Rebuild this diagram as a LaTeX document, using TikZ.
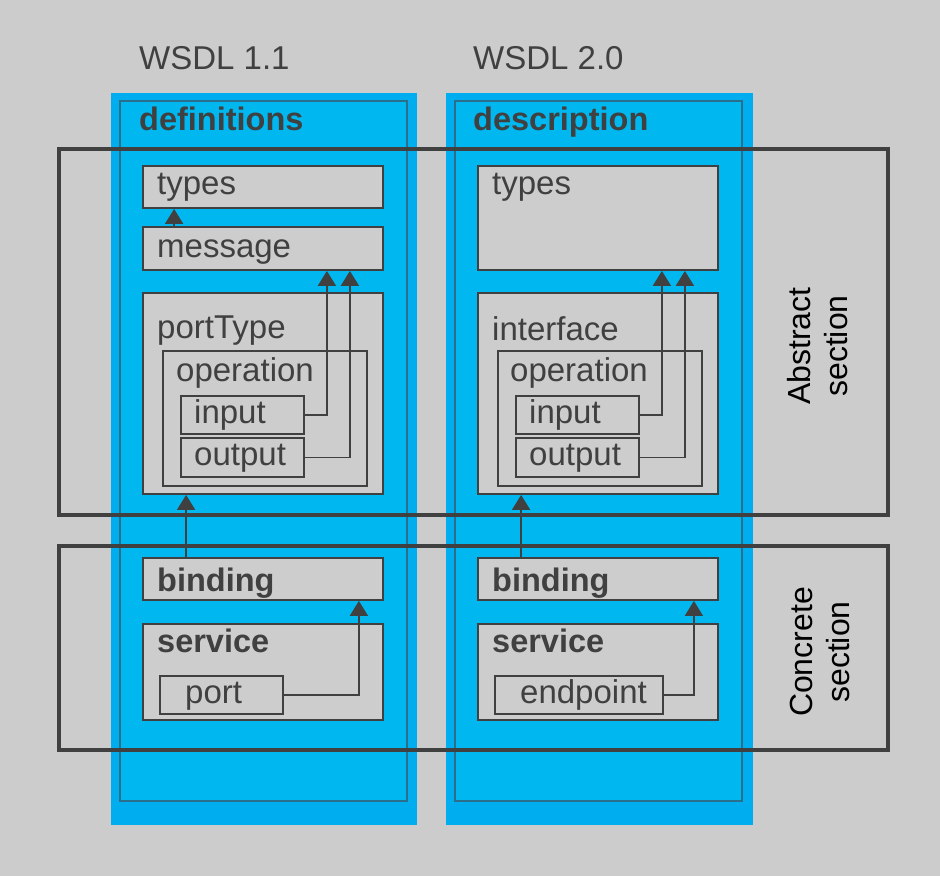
\documentclass[tikz,border=0pt]{standalone}
\usepackage{fontspec}
\setmainfont{Liberation Sans}
\usetikzlibrary{arrows.meta}
\definecolor{bggray}{HTML}{CCCCCC}
\definecolor{boxgray}{HTML}{CDCDCD}
\definecolor{dark}{HTML}{404040}
\definecolor{blueout}{HTML}{00AEEF}
\definecolor{bluein}{HTML}{00B8EF}
\definecolor{blueline}{HTML}{2A6F8C}
% box from corner (x1,y1) to corner (x2,y2), in pixels
\newcommand\wbox[6][box]{\node[#1,minimum width={#5-#3},minimum height={#6-#4}] (#2) at ({(#3+#5)/2},{(#4+#6)/2}) {};}
\begin{document}
\begin{tikzpicture}[x=1pt,y=-1pt,
	box/.style={draw=dark,fill=boxgray,line width=1.8pt,inner sep=0pt},
	colout/.style={fill=blueout,inner sep=0pt},
	colin/.style={fill=bluein,draw=blueline,line width=2pt,inner sep=0pt},
	sect/.style={draw=dark,line width=3.5pt,inner sep=0pt},
	txt/.style={text=dark,anchor=base west,inner sep=0pt,font=\fontsize{33}{38}\selectfont},
	bold/.style={txt,font=\fontsize{32.5}{38}\selectfont\bfseries},
	side/.style={rotate=90,align=center,inner sep=0pt,font=\fontsize{32}{37}\selectfont},
	arr/.style={draw=dark,line width=1.8pt,-{Triangle[length=15pt,width=18pt]}}]
	\fill[bggray] (0,0) rectangle (940,876);
	\useasboundingbox (0,0) rectangle (940,876);
	% columns
	\wbox[colout]{col1}{111}{93}{417}{825}
	\wbox[colin]{inner1}{120}{101}{407}{801}
	\wbox[colout]{col2}{446}{93}{753}{825}
	\wbox[colin]{inner2}{455}{101}{742}{801}
	% sections
	\wbox[sect]{abstract}{59}{149}{888}{515}
	\wbox[sect]{concrete}{59}{546}{888}{750}
	\node[side] (abstract-l) at (818,346) {Abstract\\section};
	\node[side] (concrete-l) at (820,652) {Concrete\\section};
	\node[txt] (wsdl1) at (139,69) {WSDL 1.1};
	\node[txt] (wsdl2) at (473,69) {WSDL 2.0};
	\node[bold] (defs) at (139,130) {definitions};
	\node[bold] (desc) at (473,130) {description};
	% WSDL 1.1
	\wbox{types1}{143}{166}{383}{208}
	\wbox{message1}{143}{227}{383}{270}
	\wbox{porttype1}{143}{293}{383}{494}
	\wbox{operation1}{163}{351}{367}{486}
	\wbox{input1}{181}{396}{304}{434}
	\wbox{output1}{181}{438}{304}{477}
	\wbox{binding1}{143}{558}{383}{600}
	\wbox{service1}{143}{624}{383}{720}
	\wbox{port1}{160}{676}{283}{714}
	\node[txt] (types1-l) at (157,194) {types};
	\node[txt] (message1-l) at (157,257) {message};
	\node[txt] (porttype1-l) at (157,338) {portType};
	\node[txt] (operation1-l) at (176,381) {operation};
	\node[txt] (input1-l) at (194,423) {input};
	\node[txt] (output1-l) at (194,465) {output};
	\node[bold] (binding1-l) at (157,591) {binding};
	\node[bold] (service1-l) at (157,652) {service};
	\node[txt] (port1-l) at (185,703) {port};
	\draw[arr] ([xshift=32pt]message1.north west) -- ([xshift=32pt]types1.south west);
	\draw[arr] (input1.east) -| ([xshift=-57pt]message1.south east);
	\draw[arr] (output1.east) -| ([xshift=-34pt]message1.south east);
	\draw[arr] ([xshift=44pt]binding1.north west) -- ([xshift=44pt]porttype1.south west);
	\draw[arr] (port1.east) -| ([xshift=-25pt]binding1.south east);
	% WSDL 2.0
	\wbox{types2}{478}{166}{718}{270}
	\wbox{interface2}{478}{293}{718}{494}
	\wbox{operation2}{498}{351}{702}{486}
	\wbox{input2}{516}{396}{639}{434}
	\wbox{output2}{516}{438}{639}{477}
	\wbox{binding2}{478}{558}{718}{600}
	\wbox{service2}{478}{624}{718}{720}
	\wbox{endpoint2}{495}{676}{663}{714}
	\node[txt] (types2-l) at (492,194) {types};
	\node[txt] (interface2-l) at (492,340) {interface};
	\node[txt] (operation2-l) at (510,381) {operation};
	\node[txt] (input2-l) at (529,423) {input};
	\node[txt] (output2-l) at (529,465) {output};
	\node[bold] (binding2-l) at (492,591) {binding};
	\node[bold] (service2-l) at (492,652) {service};
	\node[txt] (endpoint2-l) at (520,703) {endpoint};
	\draw[arr] (input2.east) -| ([xshift=-57pt]types2.south east);
	\draw[arr] (output2.east) -| ([xshift=-34pt]types2.south east);
	\draw[arr] ([xshift=44pt]binding2.north west) -- ([xshift=44pt]interface2.south west);
	\draw[arr] (endpoint2.east) -| ([xshift=-25pt]binding2.south east);
\end{tikzpicture}
\end{document}
